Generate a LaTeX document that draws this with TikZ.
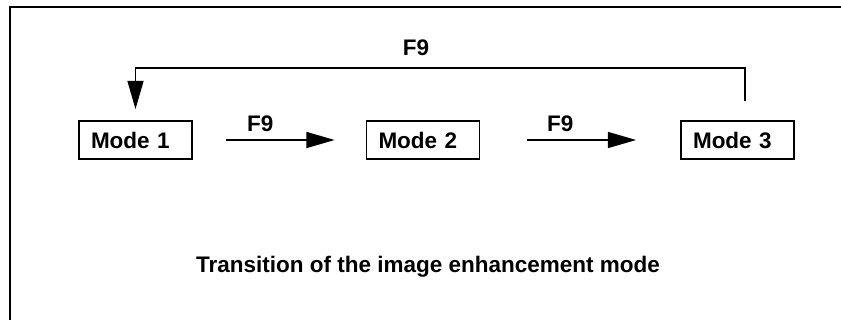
\documentclass[tikz,border=0pt]{standalone}
\usepackage{fontspec}
\setmainfont{Liberation Sans}
\usepackage{tikz}
\usetikzlibrary{arrows.meta}

\begin{document}
\begin{tikzpicture}[
    font=\fontsize{16}{19}\selectfont\bfseries,
    mode/.style={rectangle, draw=black, line width=1.2pt, align=left, text width=2.225cm, inner xsep=0.3cm, inner ysep=0pt, minimum height=0.95cm},
    relation/.style={-{Triangle[length=0.71cm,width=0.4cm]}, line width=1.3pt},
    keylabel/.style={inner sep=0pt}
]
    \useasboundingbox (0,0) rectangle (21.025,8);
    % --- FRAME ---
    \draw[line width=1.3pt] (0.25,0) -- (0.25,7.825) -- (21.025,7.825);

    % --- MODES ---
    \node[mode] (Mode1) at (3.3875,4.5) {Mode 1};
    \node[mode] (Mode2) at (10.575,4.5) {Mode 2};
    \node[mode] (Mode3) at (18.4375,4.5) {Mode 3};

    \node (Caption) at (10.7,1.325) {Transition of the image enhancement mode};

    % ================= TRANSITIONS =================
    \draw[relation, shorten <=0.825cm, shorten >=0.775cm] (Mode1) -- node[keylabel, above=0.18cm, pos=0.39] (KeyA) {F9} (Mode2);
    \draw[relation, shorten <=1.175cm, shorten >=1.1cm] (Mode2) -- node[keylabel, above=0.18cm, pos=0.40] (KeyB) {F9} (Mode3);
    % back to the first mode
    \draw[relation, shorten <=0.475cm, shorten >=0.275cm] ([xshift=0.19cm]Mode3.north) -- ++(0,1.3)
        -| node[keylabel, above=0.3cm, pos=0.27] (KeyC) {F9} (Mode1.north);

\end{tikzpicture}
\end{document}
